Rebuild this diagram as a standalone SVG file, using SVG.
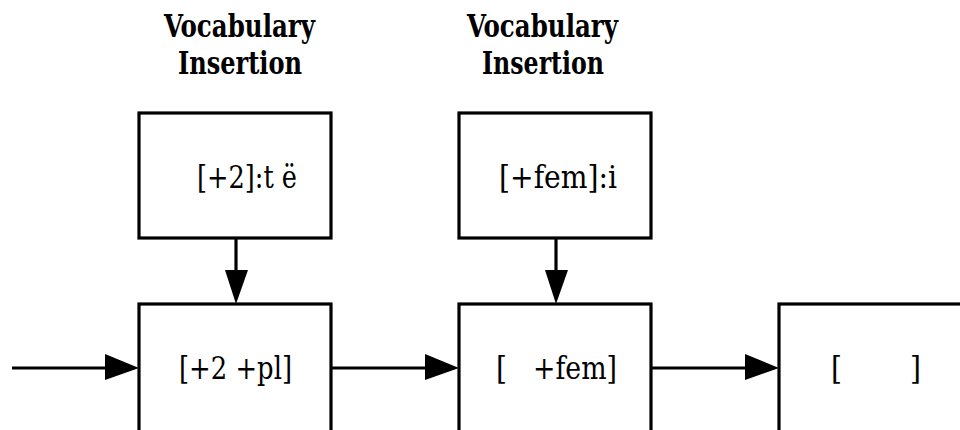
<svg xmlns="http://www.w3.org/2000/svg" width="960" height="430" viewBox="0 0 960 430">
  <style>
    .box { fill: #ffffff; stroke: #000000; stroke-width: 3.2; }
    .edge { fill: none; stroke: #000000; stroke-width: 3.2; }
    .head { fill: #000000; stroke: none; }
    .title { font-family: 'DejaVu Serif Condensed', 'DejaVu Serif', serif; font-weight: bold; font-size: 31px; fill: #000000; }
    .label { font-family: 'DejaVu Serif Condensed', 'DejaVu Serif', serif; font-size: 31px; fill: #000000; }
  </style>

  <!-- headings -->
  <g id="heading-1">
    <text class="title" x="164" y="37" textLength="151" lengthAdjust="spacingAndGlyphs">Vocabulary</text>
    <text class="title" x="178" y="74" textLength="124" lengthAdjust="spacingAndGlyphs">Insertion</text>
  </g>
  <g id="heading-2">
    <text class="title" x="467" y="37" textLength="151" lengthAdjust="spacingAndGlyphs">Vocabulary</text>
    <text class="title" x="482" y="74" textLength="122" lengthAdjust="spacingAndGlyphs">Insertion</text>
  </g>

  <!-- insertion rule boxes -->
  <g id="rule-2">
    <rect class="box" x="139" y="113" width="192" height="125"/>
    <text class="label" x="197" y="188" textLength="100" lengthAdjust="spacingAndGlyphs">[+2]:t ë</text>
  </g>
  <g id="rule-fem">
    <rect class="box" x="459" y="113" width="192" height="125"/>
    <text class="label" x="499" y="188" textLength="118" lengthAdjust="spacingAndGlyphs">[+fem]:i</text>
  </g>

  <!-- feature bundle boxes -->
  <g id="bundle-1">
    <rect class="box" x="139" y="304" width="192" height="140"/>
    <text class="label" x="179" y="379" textLength="113" lengthAdjust="spacingAndGlyphs">[+2 +pl]</text>
  </g>
  <g id="bundle-2">
    <rect class="box" x="459" y="304" width="192" height="140"/>
    <text class="label" x="496" y="379" textLength="11" lengthAdjust="spacingAndGlyphs">[</text>
    <text class="label" x="533" y="379" textLength="84" lengthAdjust="spacingAndGlyphs">+fem]</text>
  </g>
  <g id="bundle-3">
    <rect class="box" x="779" y="304" width="200" height="140"/>
    <text class="label" x="831" y="379" textLength="11" lengthAdjust="spacingAndGlyphs">[</text>
    <text class="label" x="910" y="379" textLength="11" lengthAdjust="spacingAndGlyphs">]</text>
  </g>

  <!-- connectors -->
  <g id="connectors">
    <line class="edge" x1="12" y1="368" x2="110" y2="368"/>
    <polygon class="head" points="105,354 139,368 105,380"/>
    <line class="edge" x1="331" y1="368" x2="430" y2="368"/>
    <polygon class="head" points="425,354 459,368 425,380"/>
    <line class="edge" x1="651" y1="368" x2="750" y2="368"/>
    <polygon class="head" points="745,354 779,368 745,380"/>
    <line class="edge" x1="236" y1="238" x2="236" y2="275"/>
    <polygon class="head" points="225,270 236,304 248,270"/>
    <line class="edge" x1="556" y1="238" x2="556" y2="275"/>
    <polygon class="head" points="545,270 556,304 568,270"/>
  </g>
</svg>
